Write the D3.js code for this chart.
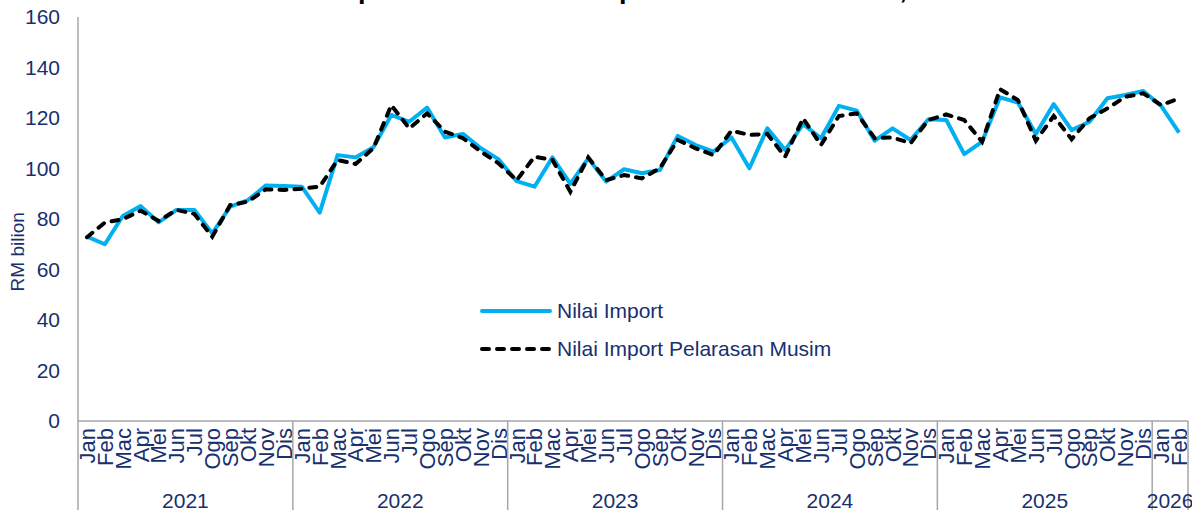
<!DOCTYPE html>
<html>
<head>
<meta charset="utf-8">
<script src="https://cdn.jsdelivr.net/npm/d3@7"></script>
<style>
  body { margin: 0; background: #fff; }
  text { font-family: "Liberation Sans", Arial, sans-serif; }
</style>
</head>
<body>
<script>
// chart size
var svgWidth = 1192;
var svgHeight = 510;

// data
var monthNames = ["Jan", "Feb", "Mac", "Apr", "Mei", "Jun", "Jul", "Ogo", "Sep", "Okt", "Nov", "Dis"];
var years = ["2021", "2022", "2023", "2024", "2025", "2026"];
var monthsInYear = [12, 12, 12, 12, 12, 2];
var yTicks = [0, 20, 40, 60, 80, 100, 120, 140, 160];

// Nilai Import (RM bilion)
var importValue = [
  73.0, 70.0, 81.2, 85.1, 78.7, 83.6, 83.6, 74.3, 84.9, 87.5, 93.3, 93.1,
  92.8, 82.5, 105.3, 104.4, 108.4, 121.2, 118.5, 124.1, 112.3, 113.7, 108.0, 103.6,
  95.0, 92.8, 104.4, 93.9, 104.0, 94.8, 99.7, 98.1, 99.4, 112.9, 109.3, 106.7,
  112.3, 100.1, 115.9, 107.3, 117.6, 112.0, 124.8, 122.9, 111.0, 115.9, 111.3, 119.5,
  119.2, 105.7, 110.6, 128.2, 126.1, 113.7, 125.5, 115.2, 118.5, 127.8, 129.1, 130.7,
  124.8, 114.2
];
// Nilai Import Pelarasan Musim (RM bilion)
var importSA = [
  72.8, 78.6, 79.9, 83.3, 79.2, 83.6, 82.0, 73.0, 85.5, 86.9, 91.8, 91.5,
  92.0, 92.8, 103.4, 101.8, 108.0, 125.1, 115.9, 121.8, 114.6, 112.0, 106.7, 102.0,
  95.3, 104.7, 103.4, 90.8, 104.4, 95.4, 97.4, 96.1, 100.1, 111.3, 108.0, 105.3,
  115.0, 113.3, 113.7, 104.7, 119.9, 109.3, 120.8, 121.8, 112.0, 112.3, 110.0, 119.2,
  121.4, 119.2, 110.6, 131.4, 127.1, 111.0, 120.8, 111.6, 119.9, 123.8, 128.4, 129.8,
  125.1, 127.8
];

var textColor = "#17306e";
var gridColor = "#a6a6a6";

// build the month keys
var months = [];
years.forEach(function(y, yi) {
  for (var m = 0; m < monthsInYear[yi]; m++) {
    months.push({ key: y + "-" + m, year: y, label: monthNames[m] });
  }
});
var data = months.map(function(d, i) {
  return { key: d.key, label: d.label, imp: importValue[i], sa: importSA[i] };
});

var svg = d3.select("body")
  .append("svg")
  .attr("width", svgWidth)
  .attr("height", svgHeight);

// scales
var xScale = d3.scaleBand()
  .domain(months.map(function(d) { return d.key; }))
  .range([78, 1188])
  .padding(0);

var yScale = d3.scaleLinear()
  .domain([0, 160])
  .range([421, 17]);

var xMid = function(k) { return xScale(k) + xScale.bandwidth() / 2; };

// title (mostly cut off at the top, as in the source)
svg.append("text")
  .attr("x", 262)
  .attr("y", -2.5)
  .style("font-size", "27px")
  .style("font-weight", "bold")
  .attr("fill", "#000")
  .text("Nilai Import Bulanan dan Import Pelarasan Musim, Januari 2021 - Februari 2026");

// y axis
var yAxis = d3.axisLeft(yScale)
  .tickValues(yTicks)
  .tickSize(0)
  .tickPadding(18);

svg.append("g")
  .attr("class", "y-axis")
  .attr("transform", "translate(78,0)")
  .call(yAxis)
  .call(function(g) { g.select(".domain").remove(); })
  .selectAll("text")
  .attr("fill", textColor)
  .style("font-size", "21px");

svg.append("line")
  .attr("x1", 78).attr("x2", 78)
  .attr("y1", yScale(160)).attr("y2", yScale(0))
  .attr("stroke", gridColor).attr("stroke-width", 1.5);

// y label
svg.append("text")
  .attr("transform", "translate(24," + yScale(67) + ") rotate(-90)")
  .attr("text-anchor", "middle")
  .attr("fill", textColor)
  .style("font-size", "19px")
  .text("RM bilion");

// x axis with month labels
var xAxis = d3.axisBottom(xScale)
  .tickSize(0)
  .tickFormat(function(k, i) { return months[i].label; });

svg.append("g")
  .attr("class", "x-axis")
  .attr("transform", "translate(0,421)")
  .call(xAxis)
  .call(function(g) { g.select(".domain").remove(); })
  .selectAll("text")
  .attr("transform", "rotate(-90)")
  .attr("x", -7)
  .attr("y", 0)
  .attr("dy", "0.36em")
  .style("text-anchor", "end")
  .style("font-size", "22px")
  .attr("fill", textColor);

svg.append("line")
  .attr("x1", 78).attr("x2", 1188)
  .attr("y1", 421).attr("y2", 421)
  .attr("stroke", gridColor).attr("stroke-width", 1.5);

// year separators and labels
var yearStart = [];
var idx = 0;
years.forEach(function(y, yi) {
  yearStart.push({ year: y, first: months[idx].key, last: months[idx + monthsInYear[yi] - 1].key });
  idx += monthsInYear[yi];
});

svg.append("g")
  .selectAll("line")
  .data(yearStart)
  .enter()
  .append("line")
  .attr("x1", function(d) { return xScale(d.first); })
  .attr("x2", function(d) { return xScale(d.first); })
  .attr("y1", 421).attr("y2", svgHeight)
  .attr("stroke", gridColor).attr("stroke-width", 1.5);

svg.append("line")
  .attr("x1", 1188).attr("x2", 1188)
  .attr("y1", 421).attr("y2", svgHeight)
  .attr("stroke", gridColor).attr("stroke-width", 1.5);

svg.append("g")
  .selectAll("text")
  .data(yearStart)
  .enter()
  .append("text")
  .attr("x", function(d) { return (xScale(d.first) + xScale(d.last) + xScale.bandwidth()) / 2; })
  .attr("y", 508)
  .attr("text-anchor", "middle")
  .attr("fill", textColor)
  .style("font-size", "21px")
  .text(function(d) { return d.year; });

// lines
var lineImp = d3.line()
  .x(function(d) { return xMid(d.key); })
  .y(function(d) { return yScale(d.imp); });

var lineSA = d3.line()
  .x(function(d) { return xMid(d.key); })
  .y(function(d) { return yScale(d.sa); });

svg.append("path")
  .datum(data)
  .attr("d", lineImp)
  .attr("fill", "none")
  .attr("stroke", "#00b0f0")
  .attr("stroke-width", 4)
  .attr("stroke-linejoin", "round");

svg.append("path")
  .datum(data)
  .attr("d", lineSA)
  .attr("fill", "none")
  .attr("stroke", "#000")
  .attr("stroke-width", 4)
  .attr("stroke-linecap", "round")
  .attr("stroke-dasharray", "7,8");

// legend
var legend = svg.append("g").attr("class", "legend");

legend.append("line")
  .attr("x1", 482).attr("x2", 550)
  .attr("y1", 311).attr("y2", 311)
  .attr("stroke", "#00b0f0").attr("stroke-width", 4)
  .attr("stroke-linecap", "round");

legend.append("text")
  .attr("x", 557).attr("y", 318)
  .attr("fill", textColor)
  .style("font-size", "21px")
  .text("Nilai Import");

legend.append("line")
  .attr("x1", 482).attr("x2", 550)
  .attr("y1", 349).attr("y2", 349)
  .attr("stroke", "#000").attr("stroke-width", 4)
  .attr("stroke-linecap", "round")
  .attr("stroke-dasharray", "7,8");

legend.append("text")
  .attr("x", 557).attr("y", 356)
  .attr("fill", textColor)
  .style("font-size", "21px")
  .text("Nilai Import Pelarasan Musim");
</script>
</body>
</html>
